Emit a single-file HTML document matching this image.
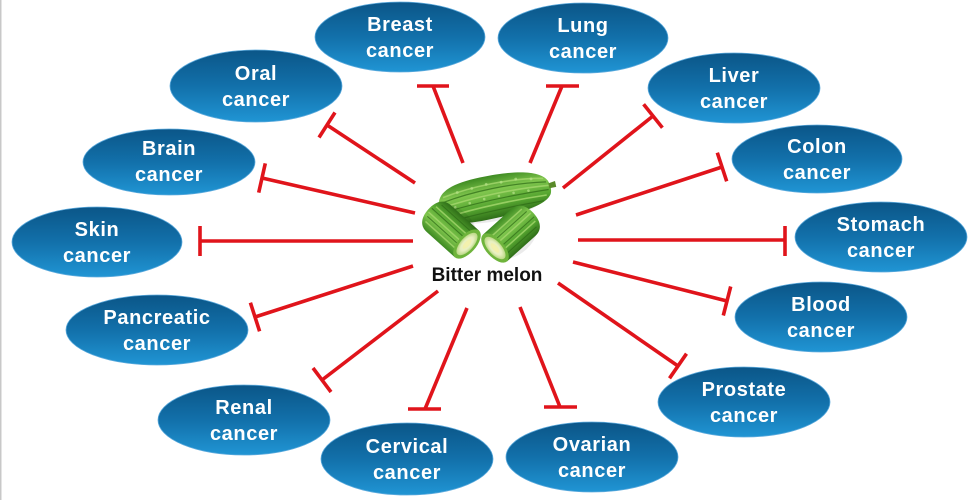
<!DOCTYPE html>
<html>
<head>
<meta charset="utf-8">
<style>
  html,body{margin:0;padding:0;background:#fff;}
  body{width:974px;height:500px;overflow:hidden;}
  svg{display:block;}
  .lbl{font-family:"Liberation Sans",Arial,sans-serif;font-weight:bold;font-size:20px;fill:#fff;letter-spacing:0.6px;}
  .ttl{font-family:"Liberation Sans",Arial,sans-serif;font-weight:bold;font-size:19px;fill:#111;}
</style>
</head>
<body>
<svg width="974" height="500" viewBox="0 0 974 500" xmlns="http://www.w3.org/2000/svg">
  <defs>
    <linearGradient id="eg" x1="0" y1="0" x2="0" y2="1">
      <stop offset="0" stop-color="#0b5688"/>
      <stop offset="0.5" stop-color="#1270aa"/>
      <stop offset="1" stop-color="#2095d4"/>
    </linearGradient>
    <linearGradient id="mg" x1="0" y1="0" x2="0" y2="1">
      <stop offset="0" stop-color="#3d8a22"/>
      <stop offset="0.35" stop-color="#80c64e"/>
      <stop offset="0.7" stop-color="#55a530"/>
      <stop offset="1" stop-color="#2f6e18"/>
    </linearGradient>
    <radialGradient id="cut" cx="0.5" cy="0.5" r="0.5">
      <stop offset="0" stop-color="#f1f3c8"/>
      <stop offset="0.6" stop-color="#e8efc0"/>
      <stop offset="1" stop-color="#b9d884"/>
    </radialGradient>
  </defs>

  <rect x="0" y="0" width="974" height="500" fill="#fff"/>
  <rect x="0" y="0" width="1.5" height="500" fill="#c8c8c8"/>

  <!-- inhibitor lines -->
  <g stroke="#e0141b" stroke-width="3.6" fill="none" stroke-linecap="butt">
    <line x1="463" y1="163" x2="433" y2="86"/><line x1="417" y1="86" x2="449" y2="86"/>
    <line x1="530" y1="163" x2="562" y2="86"/><line x1="546" y1="86" x2="579" y2="86"/>
    <line x1="415" y1="183" x2="327" y2="125"/><line x1="335" y1="112.5" x2="319" y2="137.5"/>
    <line x1="415" y1="213" x2="262" y2="178"/><line x1="265.3" y1="163.4" x2="258.7" y2="192.6"/>
    <line x1="413" y1="241" x2="200" y2="241"/><line x1="200" y1="226" x2="200" y2="256"/>
    <line x1="413" y1="266" x2="255" y2="317"/><line x1="259.6" y1="331.3" x2="250.4" y2="302.7"/>
    <line x1="438" y1="291" x2="322" y2="380"/><line x1="331" y1="392" x2="313" y2="368"/>
    <line x1="467" y1="308" x2="425" y2="409"/><line x1="408" y1="409" x2="441" y2="409"/>
    <line x1="520" y1="307" x2="560" y2="407"/><line x1="544" y1="407" x2="577" y2="407"/>
    <line x1="558" y1="283" x2="678" y2="366"/><line x1="669.5" y1="378.3" x2="686.5" y2="353.7"/>
    <line x1="573" y1="262" x2="727" y2="301"/><line x1="723.3" y1="315.5" x2="730.7" y2="286.5"/>
    <line x1="578" y1="240" x2="785" y2="240"/><line x1="785" y1="226" x2="785" y2="256"/>
    <line x1="576" y1="215" x2="722" y2="167"/><line x1="726.7" y1="181.3" x2="717.3" y2="152.7"/>
    <line x1="563" y1="188" x2="653" y2="116"/><line x1="662.4" y1="127.7" x2="643.6" y2="104.3"/>
  </g>

  <!-- ellipses -->
  <g fill="url(#eg)" stroke="#5aa9dc" stroke-width="0.8">
    <ellipse cx="400" cy="37" rx="85" ry="35"/>
    <ellipse cx="583" cy="38" rx="85" ry="35"/>
    <ellipse cx="256" cy="86" rx="86" ry="36"/>
    <ellipse cx="734" cy="88" rx="86" ry="35"/>
    <ellipse cx="169" cy="162" rx="86" ry="33"/>
    <ellipse cx="817" cy="159" rx="85" ry="34"/>
    <ellipse cx="97" cy="242" rx="85" ry="35"/>
    <ellipse cx="881" cy="237" rx="86" ry="35"/>
    <ellipse cx="157" cy="330" rx="91" ry="35"/>
    <ellipse cx="821" cy="317" rx="86" ry="35"/>
    <ellipse cx="244" cy="420" rx="86" ry="35"/>
    <ellipse cx="744" cy="402" rx="86" ry="35"/>
    <ellipse cx="407" cy="459" rx="86" ry="36"/>
    <ellipse cx="592" cy="457" rx="86" ry="35"/>
  </g>

  <!-- labels -->
  <g class="lbl" text-anchor="middle">
    <text x="400" y="31">Breast</text><text x="400" y="57">cancer</text>
    <text x="583" y="32">Lung</text><text x="583" y="58">cancer</text>
    <text x="256" y="80">Oral</text><text x="256" y="106">cancer</text>
    <text x="734" y="82">Liver</text><text x="734" y="108">cancer</text>
    <text x="169" y="155">Brain</text><text x="169" y="181">cancer</text>
    <text x="817" y="153">Colon</text><text x="817" y="179">cancer</text>
    <text x="97" y="236">Skin</text><text x="97" y="262">cancer</text>
    <text x="881" y="231">Stomach</text><text x="881" y="257">cancer</text>
    <text x="157" y="324">Pancreatic</text><text x="157" y="350">cancer</text>
    <text x="821" y="311">Blood</text><text x="821" y="337">cancer</text>
    <text x="244" y="414">Renal</text><text x="244" y="440">cancer</text>
    <text x="744" y="396">Prostate</text><text x="744" y="422">cancer</text>
    <text x="407" y="453">Cervical</text><text x="407" y="479">cancer</text>
    <text x="592" y="451">Ovarian</text><text x="592" y="477">cancer</text>
  </g>

  <!-- bitter melon illustration -->
  <!-- whole melon -->
  <g transform="translate(494,197) rotate(-12)">
    <ellipse cx="0" cy="4" rx="55" ry="20" fill="#000" opacity="0.08"/>
    <path d="M-56,0 C-56,-16 -40,-22 -10,-22 C25,-22 50,-17 56,-5 C58,0 58,5 56,9 C48,20 20,21 -10,21 C-40,21 -56,16 -56,0 Z" fill="url(#mg)"/>
    <g stroke="#a6d86e" stroke-width="1.6" fill="none" opacity="0.8">
      <path d="M-50,-10 C-20,-15 20,-15 52,-8"/>
      <path d="M-54,0 C-20,-4 20,-4 56,0"/>
      <path d="M-50,10 C-20,7 20,7 52,9"/>
    </g>
    <g stroke="#2d6a16" stroke-width="1.2" fill="none" opacity="0.7">
      <path d="M-52,-5 C-20,-10 20,-10 54,-4"/>
      <path d="M-53,5 C-20,2 20,2 55,4"/>
      <path d="M-46,15 C-20,13 20,13 48,14"/>
    </g>
    <g fill="#b8e38a" opacity="0.7">
      <circle cx="-35" cy="-12" r="1.4"/><circle cx="-20" cy="-13" r="1.4"/><circle cx="-5" cy="-14" r="1.4"/><circle cx="10" cy="-13" r="1.4"/><circle cx="25" cy="-13" r="1.4"/><circle cx="40" cy="-10" r="1.4"/>
      <circle cx="-40" cy="2" r="1.3"/><circle cx="-25" cy="1" r="1.3"/><circle cx="-10" cy="0" r="1.3"/><circle cx="5" cy="0" r="1.3"/><circle cx="20" cy="0" r="1.3"/><circle cx="35" cy="1" r="1.3"/>
    </g>
    <path d="M56,-2 L63,-3 L63,3 L56,3 Z" fill="#5a8a2a"/>
  </g>

  <!-- left cut piece (face at right-bottom) -->
  <g transform="translate(467,244) rotate(222)">
    <ellipse cx="22" cy="3" rx="28" ry="19" fill="#000" opacity="0.08"/>
    <path d="M0,-18 L38,-18 C48,-18 52,-10 52,0 C52,10 48,18 38,18 L0,18 Z" fill="url(#mg)"/>
    <g stroke="#a6d86e" stroke-width="1.5" fill="none" opacity="0.8">
      <line x1="2" y1="-11" x2="46" y2="-11"/><line x1="2" y1="-2" x2="50" y2="-2"/><line x1="2" y1="7" x2="48" y2="7"/>
    </g>
    <g stroke="#2d6a16" stroke-width="1.1" fill="none" opacity="0.7">
      <line x1="2" y1="-6" x2="48" y2="-6"/><line x1="2" y1="3" x2="50" y2="3"/><line x1="2" y1="12" x2="45" y2="12"/>
    </g>
    <ellipse cx="0" cy="0" rx="9" ry="18" fill="#6fb43c"/>
    <ellipse cx="0" cy="0" rx="6.5" ry="14" fill="url(#cut)"/>
    <ellipse cx="0" cy="0" rx="2.5" ry="6" fill="#f4f0a8" opacity="0.8"/>
  </g>

  <!-- right cut piece (face at left-bottom) -->
  <g transform="translate(495,248) rotate(-42)">
    <ellipse cx="22" cy="3" rx="28" ry="19" fill="#000" opacity="0.08"/>
    <path d="M0,-18 L38,-18 C48,-18 52,-10 52,0 C52,10 48,18 38,18 L0,18 Z" fill="url(#mg)"/>
    <g stroke="#a6d86e" stroke-width="1.5" fill="none" opacity="0.8">
      <line x1="2" y1="-11" x2="46" y2="-11"/><line x1="2" y1="-2" x2="50" y2="-2"/><line x1="2" y1="7" x2="48" y2="7"/>
    </g>
    <g stroke="#2d6a16" stroke-width="1.1" fill="none" opacity="0.7">
      <line x1="2" y1="-6" x2="48" y2="-6"/><line x1="2" y1="3" x2="50" y2="3"/><line x1="2" y1="12" x2="45" y2="12"/>
    </g>
    <ellipse cx="0" cy="0" rx="9" ry="18" fill="#6fb43c"/>
    <ellipse cx="0" cy="0" rx="6.5" ry="14" fill="url(#cut)"/>
    <ellipse cx="0" cy="0" rx="2.5" ry="6" fill="#f4f0a8" opacity="0.8"/>
  </g>

  <text class="ttl" x="487" y="281" text-anchor="middle">Bitter melon</text>
</svg>
</body>
</html>
